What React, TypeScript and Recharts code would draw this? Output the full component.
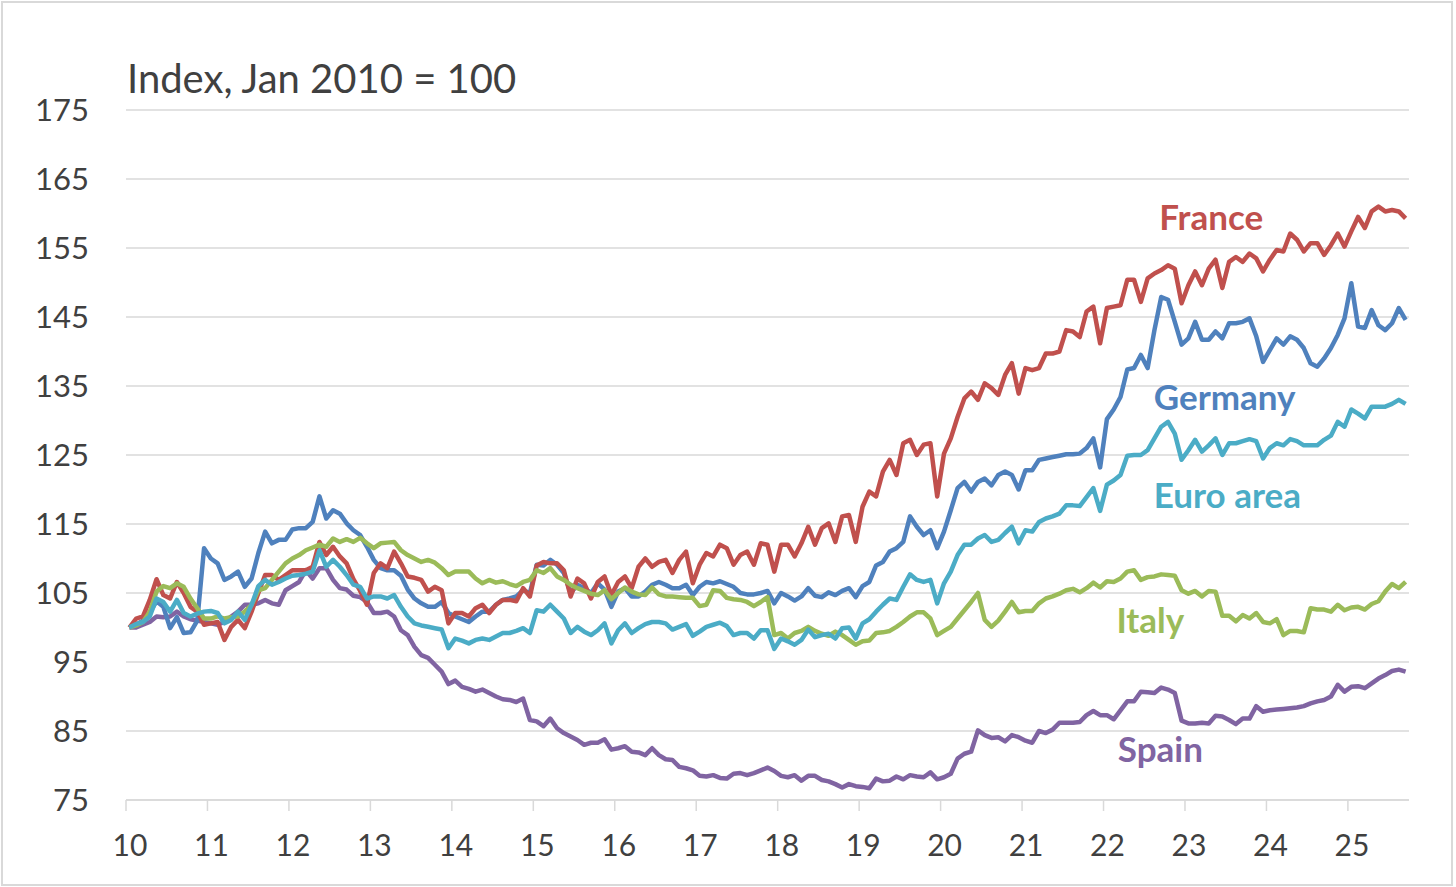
import React from 'react';
import { LineChart, Line, XAxis, YAxis, CartesianGrid, ReferenceDot } from 'recharts';

// Monthly index, Jan 2010 = 100 (Jan 2010 .. Sep 2025)
const yearLabels = ['10', '11', '12', '13', '14', '15', '16', '17', '18', '19', '20', '21', '22', '23', '24', '25'];
const yTicks = [75, 85, 95, 105, 115, 125, 135, 145, 155, 165, 175];

const france = [
  100, 101.3, 101.6, 104, 107, 104.7, 104.2, 106.6, 105, 103, 102.3, 100.4,
  100.6, 100.8, 98.2, 100.1, 101.1, 99.9, 102.3, 105, 107.6, 107.6, 106.9, 107.6,
  108.3, 108.3, 108.3, 108.8, 112.4, 110.5, 111.7, 110.3, 109.3, 107, 105.3, 103.3,
  107.9, 109.3, 108.6, 111, 109.3, 107.4, 107.2, 106.9, 105.2, 105.9, 105.4, 100.6,
  102.1, 102.1, 101.6, 102.8, 103.3, 102.1, 103.3, 104, 104, 103.8, 105.7, 104.5,
  109, 109.5, 109.3, 109.3, 108.3, 104.5, 107.1, 106.4, 104.2, 106.6, 107.4, 104.7,
  106.6, 107.4, 105.7, 108.8, 110, 108.8, 109.5, 109.8, 107.9, 109.8, 111, 106.4,
  109.1, 110.8, 110.3, 112, 111.5, 109.1, 110.5, 111, 109.1, 112.2, 112, 108.1,
  112, 112, 110.3, 112.2, 114.6, 112, 114.4, 115.1, 112.4, 116.1, 116.3, 112.4,
  117.5, 119.7, 119, 122.6, 124.3, 122.1, 126.7, 127.2, 125, 126.5, 126.7, 119,
  125.2, 127.4, 130.5, 133.2, 134.2, 133, 135.4, 134.7, 133.7, 136.6, 138.3, 133.9,
  137.6, 137.3, 137.6, 139.7, 139.7, 140, 143.1, 142.9, 142.1, 145.8, 146.5, 141.2,
  146.3, 146.5, 146.7, 150.4, 150.4, 147.2, 150.6, 151.3, 151.8, 152.5, 152, 147,
  149.6, 151.6, 149.6, 152, 153.3, 149.2, 153, 153.7, 153, 154.2, 153.5, 151.6,
  153.3, 154.7, 154.5, 157.1, 156.2, 154.5, 155.7, 155.7, 154, 155.4, 157.1, 155.2,
  157.4, 159.5, 157.9, 160.3, 161, 160.3, 160.5, 160.3, 159.3,
];

const germany = [
  100, 100.4, 101, 102.2, 103.8, 103, 99.9, 101.5, 99.2, 99.3, 101, 111.5,
  110, 109.3, 106.9, 107.4, 108.1, 105.9, 107.1, 110.8, 113.9, 112.2, 112.7, 112.7,
  114.2, 114.4, 114.4, 115.3, 119, 115.8, 117, 116.5, 115.1, 114.1, 113.4, 111.7,
  109.8, 108.6, 108.3, 108.3, 107.5, 105.5, 104.2, 103.5, 103, 103, 103.7, 102.1,
  101.6, 101.2, 100.8, 101.6, 102.3, 102.3, 103.3, 104, 104.2, 104.5, 105.4, 105,
  109.1, 109, 109.8, 109.1, 107.9, 105, 106.2, 105.7, 105, 106.4, 105.5, 103,
  105.2, 105.7, 104.5, 104.5, 105.2, 106.2, 106.6, 106.2, 105.7, 105.7, 106.2, 104.7,
  105.9, 106.6, 106.4, 106.7, 106.3, 105.9, 105, 104.8, 104.8, 105, 105.3, 103.5,
  105, 104.5, 103.9, 104.5, 105.7, 104.6, 104.4, 105.1, 104.7, 105.3, 105.7, 104.4,
  106, 106.6, 109, 109.5, 111, 111.5, 112.4, 116.1, 114.6, 113.4, 114.1, 111.5,
  113.9, 117, 120.2, 121.1, 119.7, 121.1, 121.6, 120.6, 122.1, 122.6, 122.1, 120,
  122.8, 122.8, 124.3, 124.5, 124.7, 124.9, 125.1, 125.1, 125.2, 126, 127.4, 123.2,
  130.2, 131.6, 133.4, 137.4, 137.6, 139.5, 137.6, 143.1, 147.9, 147.5, 144.3, 141,
  141.9, 144.3, 141.7, 141.7, 142.9, 141.9, 144.1, 144.1, 144.3, 144.8, 142.2, 138.5,
  140.2, 141.9, 141, 142.2, 141.7, 140.5, 138.3, 137.8, 139, 140.5, 142.4, 144.8,
  149.9, 143.6, 143.4, 146, 143.8, 143.1, 144.1, 146.3, 144.6,
];

const euroArea = [
  100, 100.5, 100.8, 101.6, 104.2, 103.7, 102.3, 104, 102.1, 101.6, 102, 102.3,
  102.4, 102.1, 100.6, 101.1, 102.3, 101.1, 103.3, 106, 106.9, 106.2, 106.6, 107.1,
  107.5, 107.6, 107.8, 108.1, 111.2, 108.8, 109.8, 108.8, 107.6, 106.2, 105.9, 104.2,
  104.5, 104.5, 104.2, 104.7, 103, 101.6, 100.6, 100.3, 100.1, 99.9, 99.7, 97,
  98.4, 98.1, 97.7, 98.2, 98.4, 98.2, 98.7, 99.2, 99.2, 99.5, 99.9, 99.2,
  102.5, 102.3, 103.3, 102.3, 101.3, 99.2, 100.1, 99.4, 98.9, 99.6, 100.6, 97.7,
  99.6, 100.6, 99.2, 99.9, 100.5, 100.8, 100.8, 100.6, 99.7, 100.1, 100.5, 98.8,
  99.4, 100.1, 100.4, 100.7, 100.2, 98.9, 99.2, 99.2, 98.4, 99.6, 99.6, 96.9,
  98.4, 98, 97.5, 98.2, 99.7, 98.6, 98.9, 99.1, 98.4, 99.9, 100, 98.4,
  100.6, 101.2, 102.3, 103.3, 104.2, 104, 105.9, 107.7, 106.9, 106.6, 106.9, 103.5,
  106.4, 108.1, 110.5, 112, 112, 112.9, 113.4, 112.4, 112.7, 113.7, 114.6, 112.2,
  114.1, 113.9, 115.3, 115.8, 116.1, 116.5, 117.7, 117.7, 117.6, 118.9, 120.2, 116.9,
  120.7, 121.3, 122.1, 124.9, 125, 125, 125.7, 127.4, 129.1, 129.8, 128.1, 124.3,
  125.7, 127.2, 125.5, 126.4, 127.4, 125, 126.7, 126.7, 127, 127.3, 127, 124.5,
  126, 126.7, 126.4, 127.3, 127, 126.4, 126.4, 126.4, 127.2, 127.8, 129.8, 129.1,
  131.6, 131, 130.3, 132, 132, 132, 132.4, 133, 132.4,
];

const italy = [
  100, 100.3, 100.8, 102.3, 105.2, 106, 105.7, 106.4, 105.9, 104.2, 102.8, 101.3,
  101.3, 101.6, 101.3, 101.5, 101.6, 102.3, 103.3, 105.4, 105.7, 106.9, 108.1, 109.3,
  110, 110.5, 111.2, 111.6, 112, 111.7, 112.9, 112.4, 112.8, 112.4, 113, 112.2,
  111.5, 112.2, 112.3, 112.4, 111.2, 110.5, 110, 109.5, 109.8, 109.4, 108.6, 107.6,
  108.1, 108.1, 108.1, 107.1, 106.4, 106.9, 106.5, 106.7, 106.3, 106, 106.6, 106.9,
  108.3, 107.9, 108.6, 107.4, 106.9, 106.2, 105.7, 105.3, 104.9, 104.7, 105.4, 104.1,
  105, 105.8, 105.2, 104.8, 104.7, 105.8, 104.8, 104.5, 104.5, 104.4, 104.3, 104.3,
  103.1, 103.3, 105.4, 105.3, 104.3, 104.1, 104, 103.7, 103.1, 103.7, 104.4, 98.9,
  99.2, 98.4, 99.2, 99.5, 100.1, 99.5, 99.1, 98.8, 99.4, 98.9, 98.2, 97.5,
  98, 98.1, 99.2, 99.3, 99.5, 100.1, 100.8, 101.6, 102.2, 102.2, 101.3, 98.9,
  99.5, 100.1, 101.3, 102.5, 103.7, 105, 101.1, 100.1, 101, 102.3, 103.7, 102.2,
  102.4, 102.4, 103.5, 104.2, 104.5, 104.9, 105.4, 105.6, 105.1, 105.7, 106.5, 105.8,
  106.7, 106.6, 107.1, 108.1, 108.3, 106.9, 107.3, 107.4, 107.7, 107.6, 107.5, 105.4,
  104.9, 105.3, 104.5, 105.3, 105.2, 101.7, 101.7, 100.9, 101.8, 101.3, 102.1, 100.8,
  100.6, 101.2, 98.9, 99.5, 99.5, 99.3, 102.8, 102.6, 102.6, 102.3, 103.3, 102.5,
  102.9, 103, 102.6, 103.4, 103.8, 105.2, 106.3, 105.7, 106.6,
];

const spain = [
  100, 100, 100.4, 100.8, 101.6, 101.5, 101.6, 102.3, 101.6, 101.2, 101, 100.8,
  100.6, 100.4, 100.8, 101.6, 102.3, 103.3, 103.3, 103.5, 104, 103.5, 103.3, 105.4,
  106, 106.6, 108.3, 107.1, 108.6, 108.6, 106.9, 105.7, 105.5, 104.6, 104.4, 103.7,
  102.1, 102.1, 102.3, 101.6, 99.6, 98.9, 97.2, 96, 95.6, 94.6, 93.6, 91.8,
  92.3, 91.4, 91.1, 90.7, 91, 90.5, 90, 89.6, 89.5, 89.2, 89.7, 86.6,
  86.4, 85.7, 86.8, 85.4, 84.7, 84.2, 83.7, 83, 83.3, 83.3, 83.8, 82.3,
  82.5, 82.8, 82, 81.9, 81.5, 82.5, 81.5, 80.9, 80.8, 79.8, 79.6, 79.3,
  78.5, 78.4, 78.6, 78.2, 78.1, 78.8, 78.9, 78.6, 78.9, 79.3, 79.7, 79.2,
  78.5, 78.3, 78.6, 77.8, 78.5, 78.5, 77.9, 77.7, 77.3, 76.8, 77.3, 77,
  76.9, 76.7, 78.1, 77.7, 77.8, 78.4, 78, 78.6, 78.4, 78.3, 79, 78,
  78.3, 78.8, 81, 81.7, 82, 85.1, 84.4, 84, 84.1, 83.5, 84.4, 84.1,
  83.6, 83.3, 85, 84.7, 85.2, 86.2, 86.2, 86.2, 86.3, 87.3, 87.9, 87.3,
  87.3, 86.7, 88, 89.3, 89.3, 90.7, 90.6, 90.5, 91.3, 91, 90.5, 86.5,
  86.1, 86.1, 86.2, 86.1, 87.2, 87.1, 86.6, 86, 86.8, 86.8, 88.6, 87.8,
  88, 88.1, 88.2, 88.3, 88.4, 88.6, 89, 89.3, 89.5, 90, 91.7, 90.7,
  91.4, 91.5, 91.2, 91.9, 92.6, 93.1, 93.7, 93.9, 93.6,
];

const FONT = "Lato, 'Open Sans', sans-serif";
const TEXT = '#404040';
const GRID = '#d9d9d9';
const SPAN = 189; // months shown on the axis

const series = [
  { key: 'spain', name: 'Spain', color: '#8064a2', labelAt: [146.1, 80.5] },
  { key: 'germany', name: 'Germany', color: '#4f81bd', labelAt: [151.4, 131.5] },
  { key: 'france', name: 'France', color: '#c0504d', labelAt: [152.2, 157.6] },
  { key: 'italy', name: 'Italy', color: '#9bbb59', labelAt: [145.9, 99.2] },
  { key: 'euro', name: 'Euro area', color: '#4bacc6', labelAt: [151.4, 117.3] },
];

const data = france.map((v, i) => ({
  t: i + 0.5,
  france: v,
  germany: germany[i],
  euro: euroArea[i],
  italy: italy[i],
  spain: spain[i],
}));

const xTicks = yearLabels.map((_, i) => i * 12);

const XTick = ({ x, y, payload }: any) => (
  <text x={x + 4} y={y} dy={43} textAnchor="middle" fontSize={30} fill={TEXT} fontFamily={FONT}>
    {yearLabels[Math.round(payload.value / 12)]}
  </text>
);

const seriesLabel = (name: string, color: string) => (props: any) => {
  const vb = props.viewBox || {};
  const cx = (vb.x || 0) + (vb.width || 0) / 2;
  const cy = (vb.y || 0) + (vb.height || 0) / 2;
  return (
    <text x={cx} y={cy} fill={color} fontSize={35} fontWeight={700} fontFamily={FONT}>
      {name}
    </text>
  );
};

export default function App() {
  return (
    <div style={{ position: 'absolute', left: 0, top: 0, width: 1456, height: 887, background: '#fff' }}>
      <div
        style={{
          position: 'absolute', left: 1, top: 1, width: 1452, height: 885,
          border: `2px solid ${GRID}`, boxSizing: 'border-box',
        }}
      />
      <LineChart width={1456} height={887} data={data} margin={{ top: 110, right: 47, left: 26, bottom: 27 }}>
        <CartesianGrid horizontal vertical={false} stroke={GRID} strokeWidth={1.5} />
        <XAxis
          dataKey="t"
          type="number"
          domain={[0, SPAN]}
          ticks={xTicks}
          interval={0}
          height={60}
          axisLine={{ stroke: GRID, strokeWidth: 1.5 }}
          tickLine={{ stroke: GRID, strokeWidth: 1.5 }}
          tickSize={11}
          tickMargin={2}
          tick={<XTick />}
        />
        <YAxis
          type="number"
          domain={[75, 175]}
          ticks={yTicks}
          interval={0}
          width={100}
          axisLine={false}
          tickLine={false}
          tickSize={0}
          tickMargin={37}
          tick={{ fontSize: 31, fill: TEXT, fontFamily: FONT }}
        />
        {series.map((s) => (
          <Line
            key={s.key}
            type="linear"
            dataKey={s.key}
            name={s.name}
            stroke={s.color}
            strokeWidth={4.5}
            strokeLinejoin="round"
            dot={false}
            activeDot={false}
            isAnimationActive={false}
          />
        ))}
        {series.map((s) => (
          <ReferenceDot
            key={`lbl-${s.key}`}
            x={s.labelAt[0]}
            y={s.labelAt[1]}
            r={0}
            fill="none"
            stroke="none"
            label={seriesLabel(s.name, s.color)}
          />
        ))}
      </LineChart>
      <svg width={1456} height={120} style={{ position: 'absolute', left: 0, top: 0, pointerEvents: 'none' }}>
        <text x={127} y={93} fontSize={40} fill={TEXT} fontFamily={FONT}>
          Index, Jan 2010 = 100
        </text>
      </svg>
    </div>
  );
}
